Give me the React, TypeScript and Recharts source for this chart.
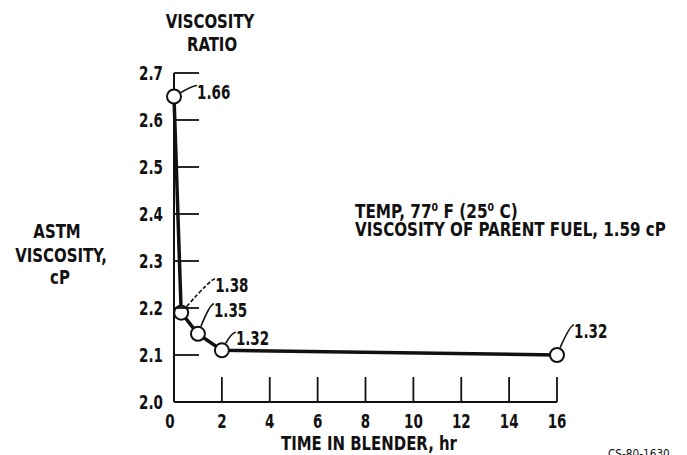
import React from "react";
import { LineChart, Line, XAxis, YAxis } from "recharts";

// time in blender (hr) vs ASTM viscosity (cP), ratio to parent fuel
const hours = [0, 0.3, 1, 2, 16];
const astmViscosity = [2.65, 2.19, 2.145, 2.11, 2.1];
const viscosityRatio = ["1.66", "1.38", "1.35", "1.32", "1.32"];

const xTicks = [0, 2, 4, 6, 8, 10, 12, 14, 16];
const yTicks = [2.0, 2.1, 2.2, 2.3, 2.4, 2.5, 2.6, 2.7];

// where each ratio label sits relative to its point (text left edge, text middle)
const labelOffsets = [
  { dx: 23, dy: -5, dashed: false },
  { dx: 34, dy: -28, dashed: true },
  { dx: 16, dy: -24, dashed: false },
  { dx: 14, dy: -12, dashed: false },
  { dx: 17, dy: -24, dashed: false },
];

const FONT = '"DejaVu Sans Condensed", "DejaVu Sans", sans-serif';
const INK = "#111";
const NUM_SX = 0.75; // squeeze numerals to look like the narrow lettering
const WORD_SX = 0.83;

const data = hours.map((h, i) => ({
  hours: h,
  astm: astmViscosity[i],
  ratio: viscosityRatio[i],
}));

// narrow text: horizontally squeezed bold text
const T = ({ x, y, sx = WORD_SX, anchor = "start", size = 20, weight = "bold", children }: any) => (
  <text
    transform={`translate(${x},${y}) scale(${sx},1)`}
    textAnchor={anchor}
    fontFamily={FONT}
    fontWeight={weight}
    fontSize={size}
    fill={INK}
  >
    {children}
  </text>
);

const YTick = (props: any) => {
  const { x, y, payload } = props;
  const v = payload.value as number;
  return (
    <g>
      {v > 2.0 && <line x1={x} x2={x + 25} y1={y} y2={y} stroke={INK} strokeWidth={1.8} />}
      <T x={x - 11} y={y + 7} anchor="end" sx={NUM_SX}>{v.toFixed(1)}</T>
    </g>
  );
};

const XTick = (props: any) => {
  const { x, y, payload } = props;
  const v = payload.value as number;
  return (
    <g>
      {v > 0 && <line x1={x} x2={x} y1={y} y2={y - 25} stroke={INK} strokeWidth={1.8} />}
      <T x={v === 0 ? x - 4 : x} y={y + 26} anchor="middle" sx={NUM_SX}>{v}</T>
    </g>
  );
};

const PointMark = (props: any) => {
  const { cx, cy, index, payload } = props;
  const off = labelOffsets[index];
  const ex = cx + off.dx - 4;
  const ey = cy + off.dy - 6;
  const len = Math.hypot(ex - cx, ey - cy);
  const sx = cx + ((ex - cx) / len) * 8;
  const sy = cy + ((ey - cy) / len) * 8;
  return (
    <g key={`pt-${index}`}>
      <path
        d={`M${sx},${sy} Q${ex},${ey} ${ex + 4},${ey}`}
        fill="none"
        stroke={INK}
        strokeWidth={1.6}
        strokeDasharray={off.dashed ? "4 2" : undefined}
      />
      <circle cx={cx} cy={cy} r={7} fill="#fff" stroke={INK} strokeWidth={2} />
      <T x={cx + off.dx} y={cy + off.dy + 7} sx={NUM_SX}>{payload.ratio}</T>
    </g>
  );
};

export default function App() {
  return (
    <div style={{ position: "absolute", left: 0, top: 0, width: 687, height: 455, background: "#fff" }}>
      <LineChart width={687} height={455} data={data} margin={{ top: 73, right: 130, bottom: 23, left: 114 }}>
        <XAxis
          dataKey="hours"
          type="number"
          domain={[0, 16]}
          ticks={xTicks}
          interval={0}
          tickSize={0}
          tickMargin={0}
          height={30}
          axisLine={{ stroke: INK, strokeWidth: 2 }}
          tick={<XTick />}
        />
        <YAxis
          type="number"
          domain={[2.0, 2.7]}
          ticks={yTicks}
          interval={0}
          tickSize={0}
          tickMargin={0}
          width={60}
          axisLine={{ stroke: INK, strokeWidth: 2 }}
          tick={<YTick />}
        />
        <Line
          type="linear"
          dataKey="astm"
          stroke={INK}
          strokeWidth={3.5}
          dot={(p: any) => <PointMark {...p} />}
          activeDot={false}
          isAnimationActive={false}
        />
      </LineChart>
      <svg width={687} height={455} style={{ position: "absolute", left: 0, top: 0, pointerEvents: "none" }}>
        <T x={210} y={28} anchor="middle">VISCOSITY</T>
        <T x={212} y={51} anchor="middle">RATIO</T>
        <T x={57} y={238} anchor="middle">ASTM</T>
        <T x={61} y={262} anchor="middle">VISCOSITY,</T>
        <T x={60} y={284} anchor="middle">cP</T>
        <T x={369} y={450} anchor="middle">TIME IN BLENDER, hr</T>
        <T x={355} y={218} sx={0.85}>TEMP, 77⁰ F (25⁰ C)</T>
        <T x={355} y={236} sx={0.84}>VISCOSITY OF PARENT FUEL, 1.59 cP</T>
        <T x={608} y={458} sx={0.9} size={13} weight="normal">CS-80-1630</T>
      </svg>
    </div>
  );
}
